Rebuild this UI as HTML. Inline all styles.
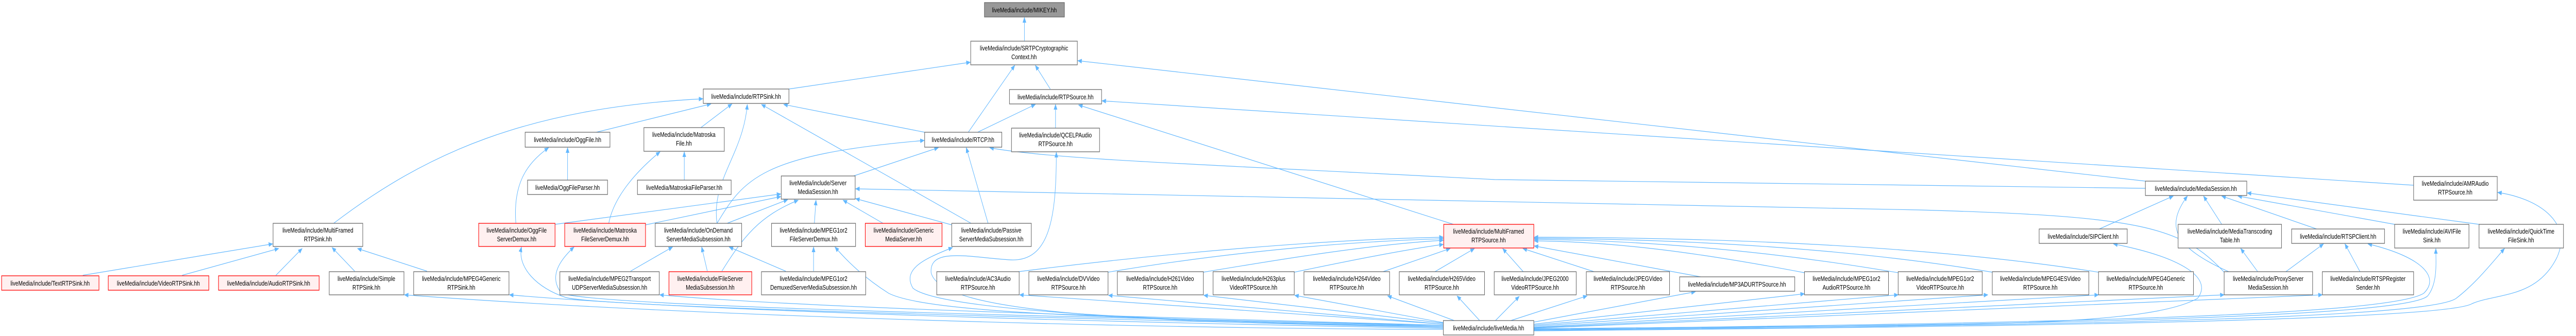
<!DOCTYPE html>
<html><head><meta charset="utf-8"><style>
html,body{margin:0;padding:0;background:#fff;width:100%;height:100%;overflow:hidden;}
svg{display:block;width:100vw;height:100vh;}
text{font-family:"Liberation Sans",sans-serif;font-size:13px;fill:#000;text-anchor:middle;}
.n{fill:#fff;stroke:#666;stroke-width:1.3;}
.r{fill:#fff0f0;stroke:#f00;stroke-width:1.3;}
.g{fill:#999;stroke:#666;stroke-width:1.3;}
.e{fill:none;stroke:#63b8ff;stroke-width:1.2;}
</style></head><body>
<svg viewBox="0 0 6377 653" preserveAspectRatio="none" xmlns="http://www.w3.org/2000/svg">
<defs><marker id="a" markerWidth="11" markerHeight="9" refX="10" refY="4.5" orient="auto" markerUnits="userSpaceOnUse"><path d="M0,0 L11,4.5 L0,9 z" fill="#63b8ff"/></marker></defs>
<g class="edges">
<path class="e" marker-end="url(#a)" d="M2536,80 L2536,34"/>
<path class="e" marker-end="url(#a)" d="M1953,173 L2402,121"/>
<path class="e" marker-end="url(#a)" d="M2397,257 L2512,127"/>
<path class="e" marker-end="url(#a)" d="M2600,173 L2563,127"/>
<path class="e" marker-end="url(#a)" d="M5311,352 L2668,118"/>
<path class="e" marker-end="url(#a)" d="M1476,257 L1760,202"/>
<path class="e" marker-end="url(#a)" d="M1735,248 L1812,202"/>
<path class="e" marker-end="url(#a)" d="M826,434 C1050,300 1300,210 1740,192"/>
<path class="e" marker-end="url(#a)" d="M1775,434 C1760,350 1840,300 1850,203"/>
<path class="e" marker-end="url(#a)" d="M2404,434 L1885,203"/>
<path class="e" marker-end="url(#a)" d="M2289,257 L1940,203"/>
<path class="e" marker-end="url(#a)" d="M2113,342 L2323,287"/>
<path class="e" marker-end="url(#a)" d="M1775,434 C1840,350 1880,300 2288,273"/>
<path class="e" marker-end="url(#a)" d="M2446,434 L2392,287"/>
<path class="e" marker-end="url(#a)" d="M2420,257 L2563,203"/>
<path class="e" marker-end="url(#a)" d="M2613,249 L2613,203"/>
<path class="e" marker-end="url(#a)" d="M3598,436 L2670,204"/>
<path class="e" marker-end="url(#a)" d="M5975,360 L2728,196"/>
<path class="e" marker-end="url(#a)" d="M5311,366 L3700,349 C3000,320 2600,310 2450,287"/>
<path class="e" marker-end="url(#a)" d="M5506,529 C5400,440 5300,420 4750,408 L2118,367"/>
<path class="e" marker-end="url(#a)" d="M1405,350 L1405,287"/>
<path class="e" marker-end="url(#a)" d="M1694,350 L1694,295"/>
<path class="e" marker-end="url(#a)" d="M1277,434 C1270,360 1300,320 1358,287"/>
<path class="e" marker-end="url(#a)" d="M1374,436 L1933,377"/>
<path class="e" marker-end="url(#a)" d="M1507,434 C1520,380 1580,330 1634,295"/>
<path class="e" marker-end="url(#a)" d="M1598,437 L1933,382"/>
<path class="e" marker-end="url(#a)" d="M1800,434 L1950,388"/>
<path class="e" marker-end="url(#a)" d="M1787,527 C1840,460 1880,420 1976,389"/>
<path class="e" marker-end="url(#a)" d="M2016,434 L2020,389"/>
<path class="e" marker-end="url(#a)" d="M2186,434 L2087,389"/>
<path class="e" marker-end="url(#a)" d="M2356,437 L2118,386"/>
<path class="e" marker-end="url(#a)" d="M1561,527 L1665,480"/>
<path class="e" marker-end="url(#a)" d="M1751,527 L1737,480"/>
<path class="e" marker-end="url(#a)" d="M1945,527 L1805,480"/>
<path class="e" marker-end="url(#a)" d="M2014,527 L2014,480"/>
<path class="e" marker-end="url(#a)" d="M205,535 L675,474"/>
<path class="e" marker-end="url(#a)" d="M451,535 L690,483"/>
<path class="e" marker-end="url(#a)" d="M683,535 L748,483"/>
<path class="e" marker-end="url(#a)" d="M878,527 L822,481"/>
<path class="e" marker-end="url(#a)" d="M1057,527 L885,483"/>
<path class="e" marker-end="url(#a)" d="M3573,640 C3000,640 1800,620 1001,573"/>
<path class="e" marker-end="url(#a)" d="M3573,638 C3000,630 1800,610 1261,573"/>
<path class="e" marker-end="url(#a)" d="M3573,636 C3000,625 1500,600 1400,578 C1330,560 1280,520 1291,480"/>
<path class="e" marker-end="url(#a)" d="M3573,634 C3000,620 1500,600 1390,570 C1360,540 1380,510 1421,480"/>
<path class="e" marker-end="url(#a)" d="M3573,632 C3000,620 2000,600 1633,573"/>
<path class="e" marker-end="url(#a)" d="M3573,632 C2800,620 2300,610 2200,570 C2140,540 2100,510 2067,480"/>
<path class="e" marker-end="url(#a)" d="M3573,634 C2800,625 2320,600 2260,560 C2230,520 2300,500 2358,481"/>
<path class="e" marker-end="url(#a)" d="M3573,636 C2800,625 2330,610 2305,530 C2300,480 2400,500 2500,505 C2600,510 2615,420 2615,296"/>
<path class="e" marker-end="url(#a)" d="M3573,630 L2524,573"/>
<path class="e" marker-end="url(#a)" d="M3573,630 L2744,574"/>
<path class="e" marker-end="url(#a)" d="M3573,628 L2980,574"/>
<path class="e" marker-end="url(#a)" d="M3573,627 L3205,574"/>
<path class="e" marker-end="url(#a)" d="M3600,623 L3435,575"/>
<path class="e" marker-end="url(#a)" d="M3663,623 L3607,575"/>
<path class="e" marker-end="url(#a)" d="M3702,623 L3761,576"/>
<path class="e" marker-end="url(#a)" d="M3740,623 L3929,575"/>
<path class="e" marker-end="url(#a)" d="M3797,626 L4197,567"/>
<path class="e" marker-end="url(#a)" d="M3797,630 L4467,571"/>
<path class="e" marker-end="url(#a)" d="M3797,632 L4699,573"/>
<path class="e" marker-end="url(#a)" d="M3797,634 L4921,573"/>
<path class="e" marker-end="url(#a)" d="M3797,636 L5195,573"/>
<path class="e" marker-end="url(#a)" d="M3797,637 L5506,573"/>
<path class="e" marker-end="url(#a)" d="M3797,638 L5749,573"/>
<path class="e" marker-end="url(#a)" d="M3797,639 C4800,630 5300,640 5440,580 C5480,540 5400,500 5232,474"/>
<path class="e" marker-end="url(#a)" d="M3797,640 C4800,630 5900,620 6000,570 C6040,540 6000,500 5862,474"/>
<path class="e" marker-end="url(#a)" d="M3797,641 C4800,632 5950,622 6010,575 C6035,550 6030,510 6030,483"/>
<path class="e" marker-end="url(#a)" d="M3797,642 C4800,634 6000,625 6080,580 C6130,550 6170,510 6200,483"/>
<path class="e" marker-end="url(#a)" d="M3797,643 C4800,636 6050,625 6120,590 C6180,570 6280,580 6330,500 C6370,430 6280,385 6183,374"/>
<path class="e" marker-end="url(#a)" d="M2521,528 C2900,490 3300,465 3573,461"/>
<path class="e" marker-end="url(#a)" d="M2743,529 C3000,495 3300,470 3573,464"/>
<path class="e" marker-end="url(#a)" d="M2979,529 C3200,500 3400,475 3573,467"/>
<path class="e" marker-end="url(#a)" d="M3204,529 C3350,505 3480,485 3573,475"/>
<path class="e" marker-end="url(#a)" d="M3420,529 L3590,483"/>
<path class="e" marker-end="url(#a)" d="M3550,529 L3650,483"/>
<path class="e" marker-end="url(#a)" d="M3772,529 L3720,483"/>
<path class="e" marker-end="url(#a)" d="M3950,529 L3770,483"/>
<path class="e" marker-end="url(#a)" d="M4210,538 L3798,478"/>
<path class="e" marker-end="url(#a)" d="M4467,530 C4200,490 4000,470 3798,468"/>
<path class="e" marker-end="url(#a)" d="M4699,530 C4400,490 4100,468 3798,465"/>
<path class="e" marker-end="url(#a)" d="M4932,529 C4600,485 4200,465 3798,463"/>
<path class="e" marker-end="url(#a)" d="M5195,529 C4800,480 4300,462 3798,461"/>
<path class="e" marker-end="url(#a)" d="M5197,445 L5380,381"/>
<path class="e" marker-end="url(#a)" d="M5520,529 C5380,480 5360,440 5415,381"/>
<path class="e" marker-end="url(#a)" d="M5500,436 L5455,381"/>
<path class="e" marker-end="url(#a)" d="M5735,445 L5500,381"/>
<path class="e" marker-end="url(#a)" d="M5928,436 L5540,381"/>
<path class="e" marker-end="url(#a)" d="M6137,436 L5563,375"/>
<path class="e" marker-end="url(#a)" d="M5590,529 L5547,483"/>
<path class="e" marker-end="url(#a)" d="M5657,529 L5752,474"/>
<path class="e" marker-end="url(#a)" d="M5843,529 L5805,474"/>
</g>
<g>
<rect class="g" x="2437" y="5" width="198" height="28"/><text x="2536" y="24">liveMedia/include/MIKEY.hh</text>
<rect class="n" x="2403" y="80" width="264" height="46"/><text x="2535" y="98">liveMedia/include/SRTPCryptographic</text><text x="2535" y="115">Context.hh</text>
<rect class="n" x="1741" y="173" width="212" height="28"/><text x="1847" y="192">liveMedia/include/RTPSink.hh</text>
<rect class="n" x="2499" y="174" width="228" height="28"/><text x="2613" y="193">liveMedia/include/RTPSource.hh</text>
<rect class="n" x="1300" y="257" width="210" height="29"/><text x="1405" y="276">liveMedia/include/OggFile.hh</text>
<rect class="n" x="1594" y="248" width="199" height="46"/><text x="1693" y="266">liveMedia/include/Matroska</text><text x="1693" y="283">File.hh</text>
<rect class="n" x="2289" y="257" width="191" height="29"/><text x="2384" y="276">liveMedia/include/RTCP.hh</text>
<rect class="n" x="2504" y="249" width="218" height="46"/><text x="2613" y="267">liveMedia/include/QCELPAudio</text><text x="2613" y="284">RTPSource.hh</text>
<rect class="n" x="1306" y="350" width="198" height="28"/><text x="1405" y="369">liveMedia/OggFileParser.hh</text>
<rect class="n" x="1578" y="350" width="232" height="28"/><text x="1694" y="369">liveMedia/MatroskaFileParser.hh</text>
<rect class="n" x="1934" y="342" width="183" height="45"/><text x="2025" y="360">liveMedia/include/Server</text><text x="2025" y="377">MediaSession.hh</text>
<rect class="n" x="5311" y="352" width="251" height="28"/><text x="5436" y="371">liveMedia/include/MediaSession.hh</text>
<rect class="n" x="5975" y="343" width="207" height="46"/><text x="6078" y="361">liveMedia/include/AMRAudio</text><text x="6078" y="378">RTPSource.hh</text>
<rect class="n" x="676" y="434" width="222" height="45"/><text x="787" y="452">liveMedia/include/MultiFramed</text><text x="787" y="469">RTPSink.hh</text>
<rect class="r" x="1185" y="434" width="189" height="45"/><text x="1279" y="452">liveMedia/include/OggFile</text><text x="1279" y="469">ServerDemux.hh</text>
<rect class="r" x="1398" y="434" width="200" height="45"/><text x="1498" y="452">liveMedia/include/Matroska</text><text x="1498" y="469">FileServerDemux.hh</text>
<rect class="n" x="1622" y="434" width="214" height="45"/><text x="1729" y="452">liveMedia/include/OnDemand</text><text x="1729" y="469">ServerMediaSubsession.hh</text>
<rect class="n" x="1910" y="434" width="208" height="45"/><text x="2014" y="452">liveMedia/include/MPEG1or2</text><text x="2014" y="469">FileServerDemux.hh</text>
<rect class="r" x="2142" y="434" width="190" height="45"/><text x="2237" y="452">liveMedia/include/Generic</text><text x="2237" y="469">MediaServer.hh</text>
<rect class="n" x="2356" y="434" width="197" height="45"/><text x="2454" y="452">liveMedia/include/Passive</text><text x="2454" y="469">ServerMediaSubsession.hh</text>
<rect class="r" x="3574" y="436" width="223" height="46"/><text x="3685" y="454">liveMedia/include/MultiFramed</text><text x="3685" y="471">RTPSource.hh</text>
<rect class="n" x="5048" y="445" width="218" height="28"/><text x="5157" y="464">liveMedia/include/SIPClient.hh</text>
<rect class="n" x="5392" y="436" width="256" height="46"/><text x="5520" y="454">liveMedia/include/MediaTranscoding</text><text x="5520" y="471">Table.hh</text>
<rect class="n" x="5673" y="445" width="230" height="28"/><text x="5788" y="464">liveMedia/include/RTSPClient.hh</text>
<rect class="n" x="5928" y="436" width="184" height="46"/><text x="6020" y="454">liveMedia/include/AVIFile</text><text x="6020" y="471">Sink.hh</text>
<rect class="n" x="6137" y="436" width="209" height="46"/><text x="6241" y="454">liveMedia/include/QuickTime</text><text x="6241" y="471">FileSink.hh</text>
<rect class="r" x="4" y="536" width="241" height="28"/><text x="124" y="555">liveMedia/include/TextRTPSink.hh</text>
<rect class="r" x="268" y="536" width="249" height="28"/><text x="392" y="555">liveMedia/include/VideoRTPSink.hh</text>
<rect class="r" x="541" y="536" width="249" height="28"/><text x="665" y="555">liveMedia/include/AudioRTPSink.hh</text>
<rect class="n" x="815" y="528" width="185" height="45"/><text x="907" y="546">liveMedia/include/Simple</text><text x="907" y="563">RTPSink.hh</text>
<rect class="n" x="1024" y="528" width="236" height="45"/><text x="1142" y="546">liveMedia/include/MPEG4Generic</text><text x="1142" y="563">RTPSink.hh</text>
<rect class="n" x="1386" y="528" width="246" height="45"/><text x="1509" y="546">liveMedia/include/MPEG2Transport</text><text x="1509" y="563">UDPServerMediaSubsession.hh</text>
<rect class="r" x="1656" y="528" width="205" height="45"/><text x="1758" y="546">liveMedia/include/FileServer</text><text x="1758" y="563">MediaSubsession.hh</text>
<rect class="n" x="1885" y="528" width="258" height="45"/><text x="2014" y="546">liveMedia/include/MPEG1or2</text><text x="2014" y="563">DemuxedServerMediaSubsession.hh</text>
<rect class="n" x="2319" y="528" width="204" height="45"/><text x="2421" y="546">liveMedia/include/AC3Audio</text><text x="2421" y="563">RTPSource.hh</text>
<rect class="n" x="2547" y="528" width="196" height="45"/><text x="2645" y="546">liveMedia/include/DVVideo</text><text x="2645" y="563">RTPSource.hh</text>
<rect class="n" x="2766" y="528" width="213" height="45"/><text x="2872" y="546">liveMedia/include/H261Video</text><text x="2872" y="563">RTPSource.hh</text>
<rect class="n" x="3003" y="528" width="201" height="45"/><text x="3103" y="546">liveMedia/include/H263plus</text><text x="3103" y="563">VideoRTPSource.hh</text>
<rect class="n" x="3228" y="528" width="212" height="45"/><text x="3334" y="546">liveMedia/include/H264Video</text><text x="3334" y="563">RTPSource.hh</text>
<rect class="n" x="3464" y="528" width="211" height="45"/><text x="3569" y="546">liveMedia/include/H265Video</text><text x="3569" y="563">RTPSource.hh</text>
<rect class="n" x="3699" y="528" width="203" height="45"/><text x="3800" y="546">liveMedia/include/JPEG2000</text><text x="3800" y="563">VideoRTPSource.hh</text>
<rect class="n" x="3927" y="528" width="206" height="45"/><text x="4030" y="546">liveMedia/include/JPEGVideo</text><text x="4030" y="563">RTPSource.hh</text>
<rect class="n" x="4158" y="538" width="285" height="28"/><text x="4300" y="557">liveMedia/include/MP3ADURTPSource.hh</text>
<rect class="n" x="4467" y="528" width="208" height="45"/><text x="4571" y="546">liveMedia/include/MPEG1or2</text><text x="4571" y="563">AudioRTPSource.hh</text>
<rect class="n" x="4699" y="528" width="208" height="45"/><text x="4803" y="546">liveMedia/include/MPEG1or2</text><text x="4803" y="563">VideoRTPSource.hh</text>
<rect class="n" x="4932" y="528" width="239" height="45"/><text x="5051" y="546">liveMedia/include/MPEG4ESVideo</text><text x="5051" y="563">RTPSource.hh</text>
<rect class="n" x="5195" y="528" width="235" height="45"/><text x="5312" y="546">liveMedia/include/MPEG4Generic</text><text x="5312" y="563">RTPSource.hh</text>
<rect class="n" x="5506" y="528" width="219" height="45"/><text x="5615" y="546">liveMedia/include/ProxyServer</text><text x="5615" y="563">MediaSession.hh</text>
<rect class="n" x="5749" y="528" width="226" height="45"/><text x="5862" y="546">liveMedia/include/RTSPRegister</text><text x="5862" y="563">Sender.hh</text>
<rect class="n" x="3573" y="623" width="224" height="28"/><text x="3685" y="642">liveMedia/include/liveMedia.hh</text>
</g>
</svg>
</body></html>
